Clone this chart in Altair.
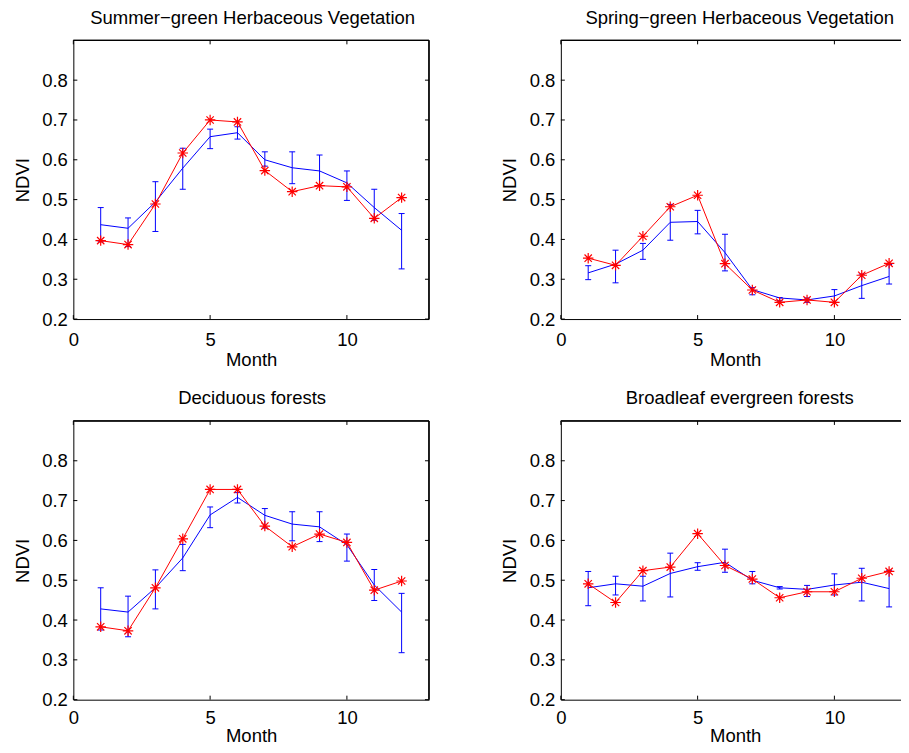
import altair as alt
import pandas as pd

MONTHS = list(range(1, 13))

TITLES = [
    "Summer\u2212green Herbaceous Vegetation",
    "Spring\u2212green Herbaceous Vegetation",
    "Deciduous forests",
    "Broadleaf evergreen forests",
]

# Summer-green herbaceous vegetation
SG_MEAN = [0.437, 0.428, 0.494, 0.579, 0.658, 0.668, 0.600, 0.580, 0.572, 0.542, 0.480, 0.423]
SG_LO = [0.394, 0.382, 0.420, 0.526, 0.628, 0.652, 0.584, 0.540, 0.535, 0.498, 0.448, 0.326]
SG_HI = [0.480, 0.454, 0.545, 0.629, 0.677, 0.683, 0.620, 0.620, 0.612, 0.572, 0.526, 0.465]
SG_RED = [0.397, 0.387, 0.489, 0.617, 0.700, 0.695, 0.573, 0.520, 0.535, 0.532, 0.453, 0.505]

# Spring-green herbaceous vegetation
SP_MEAN = [0.316, 0.338, 0.373, 0.443, 0.445, 0.367, 0.274, 0.253, 0.248, 0.258, 0.284, 0.307]
SP_LO = [0.299, 0.291, 0.350, 0.398, 0.414, 0.321, 0.261, 0.246, 0.242, 0.242, 0.252, 0.288]
SP_HI = [0.334, 0.373, 0.390, 0.488, 0.473, 0.413, 0.279, 0.254, 0.253, 0.274, 0.313, 0.337]
SP_RED = [0.353, 0.335, 0.408, 0.482, 0.511, 0.339, 0.273, 0.242, 0.248, 0.242, 0.310, 0.340]

# Deciduous forests
DF_MEAN = [0.428, 0.420, 0.481, 0.556, 0.664, 0.708, 0.663, 0.641, 0.634, 0.589, 0.488, 0.420]
DF_LO = [0.375, 0.358, 0.428, 0.524, 0.632, 0.694, 0.631, 0.599, 0.597, 0.548, 0.449, 0.318]
DF_HI = [0.481, 0.460, 0.526, 0.590, 0.684, 0.720, 0.680, 0.672, 0.672, 0.616, 0.527, 0.467]
DF_RED = [0.383, 0.373, 0.481, 0.604, 0.728, 0.728, 0.636, 0.584, 0.616, 0.595, 0.475, 0.498]

# Broadleaf evergreen forests
BE_MEAN = [0.481, 0.491, 0.485, 0.517, 0.534, 0.545, 0.500, 0.481, 0.477, 0.488, 0.495, 0.479]
BE_LO = [0.436, 0.463, 0.448, 0.458, 0.525, 0.520, 0.491, 0.478, 0.459, 0.463, 0.448, 0.433]
BE_HI = [0.522, 0.510, 0.510, 0.568, 0.544, 0.578, 0.522, 0.484, 0.487, 0.516, 0.530, 0.525]
BE_RED = [0.491, 0.444, 0.524, 0.533, 0.617, 0.537, 0.503, 0.456, 0.471, 0.471, 0.505, 0.522]

XTICKS = [0, 5, 10]
YTICKS = [0.2, 0.3, 0.4, 0.5, 0.6, 0.7, 0.8]

FONT = "Liberation Sans"
FS = 18.5
BLUE = "#0000ff"
RED = "#ff0000"
STAR = "M-1,0L1,0M0,-1L0,1M-0.7,-0.7L0.7,0.7M-0.7,0.7L0.7,-0.7"
TL = 4  # inward tick length


def panel(title, mean, lo, hi, red, width, height, xmax, full_box, dx, lpad, tpad):
    df = pd.DataFrame({"month": MONTHS, "mean": mean, "lo": lo, "hi": hi, "red": red})
    xt = pd.DataFrame({"v": XTICKS})
    yt = pd.DataFrame({"v": YTICKS})
    xs = alt.Scale(domain=[0, xmax], nice=False, zero=False)
    ys = alt.Scale(domain=[0.2, 0.9], nice=False, zero=False)
    xaxis = alt.Axis(values=XTICKS, format="d", ticks=False, tickSize=0, domain=True,
                     domainColor="black", domainWidth=1,
                     grid=False, labelFontSize=FS, titleFontSize=FS, titleFontWeight="normal",
                     labelPadding=lpad, titlePadding=tpad, labelFont=FONT, titleFont=FONT,
                     labelColor="black", titleColor="black", labelFlush=False)
    yaxis = alt.Axis(values=YTICKS, format=".1f", ticks=False, tickSize=0, domain=True,
                     domainColor="black", domainWidth=1,
                     grid=False, labelFontSize=FS, titleFontSize=FS, titleFontWeight="normal",
                     labelPadding=6, titlePadding=9.4, labelFont=FONT, titleFont=FONT,
                     labelColor="black", titleColor="black", labelFlush=False)

    def X(f):
        return alt.X(f, scale=xs, axis=xaxis, title="Month")

    def Y(f):
        return alt.Y(f, scale=ys, axis=yaxis, title="NDVI")

    base = alt.Chart(df)
    blue_line = base.mark_line(color=BLUE, strokeWidth=1).encode(x=X("month:Q"), y=Y("mean:Q"))
    err = base.mark_rule(color=BLUE, strokeWidth=1).encode(x=X("month:Q"), y=Y("lo:Q"), y2="hi:Q")
    cap_lo = base.mark_tick(color=BLUE, orient="horizontal", size=6, thickness=1, opacity=1).encode(
        x=X("month:Q"), y=Y("lo:Q"))
    cap_hi = base.mark_tick(color=BLUE, orient="horizontal", size=6, thickness=1, opacity=1).encode(
        x=X("month:Q"), y=Y("hi:Q"))
    red_line = base.mark_line(color=RED, strokeWidth=1).encode(x=X("month:Q"), y=Y("red:Q"))
    red_pts = base.mark_point(shape=STAR, size=110, color=RED, filled=False, strokeWidth=1.2,
                              opacity=1).encode(x=X("month:Q"), y=Y("red:Q"))

    ty = alt.Chart(yt)
    tx = alt.Chart(xt)
    # inward ticks (MATLAB style)
    lt = ty.mark_rule(color="black", strokeWidth=1).encode(
        y=Y("v:Q"), x=alt.value(0), x2=alt.value(TL))
    tt = tx.mark_rule(color="black", strokeWidth=1).encode(
        x=X("v:Q"), y=alt.value(0), y2=alt.value(TL))
    bt = tx.mark_rule(color="black", strokeWidth=1).encode(
        x=X("v:Q"), y=alt.value(height - TL), y2=alt.value(height))
    # top frame line
    top = tx.mark_rule(color="black", strokeWidth=1).encode(
        x=alt.value(0), x2=alt.value(width), y=alt.value(0))
    layers = [lt, tt, bt, top]
    if full_box:
        rt = ty.mark_rule(color="black", strokeWidth=1).encode(
            y=Y("v:Q"), x=alt.value(width - TL), x2=alt.value(width))
        right = tx.mark_rule(color="black", strokeWidth=1).encode(
            x=alt.value(width), y=alt.value(0), y2=alt.value(height))
        layers += [rt, right]
    layers += [blue_line, err, cap_lo, cap_hi, red_line, red_pts]
    return alt.layer(*layers).properties(
        width=width, height=height,
        title=alt.TitleParams(text=title, fontSize=FS, fontWeight="normal", font=FONT,
                              color="black", anchor="middle", offset=12.5, dx=dx),
    )


W = 356
WR = 349
XMAX_R = 12.745

p1 = panel(TITLES[0], SG_MEAN, SG_LO, SG_HI, SG_RED, W, 279, 13, True, 1.5, 11.5, 1.5)
p2 = panel(TITLES[1], SP_MEAN, SP_LO, SP_HI, SP_RED, WR, 279, XMAX_R, False, 4.5, 11.5, 1.5)
p3 = panel(TITLES[2], DF_MEAN, DF_LO, DF_HI, DF_RED, W, 279, 13, True, 1, 8.5, 0)
p4 = panel(TITLES[3], BE_MEAN, BE_LO, BE_HI, BE_RED, WR, 279, XMAX_R, False, 4.5, 8.5, 0)

chart = alt.concat(
    p1, p2, p3, p4, columns=2, spacing={"row": 102, "column": 132}, bounds="flush"
).properties(
    padding={"left": 4.4, "top": 0, "right": -9.5, "bottom": 0},
    background="white",
).configure_view(stroke=None)

chart.save("out.html", embed_options={"renderer": "svg", "actions": False})
